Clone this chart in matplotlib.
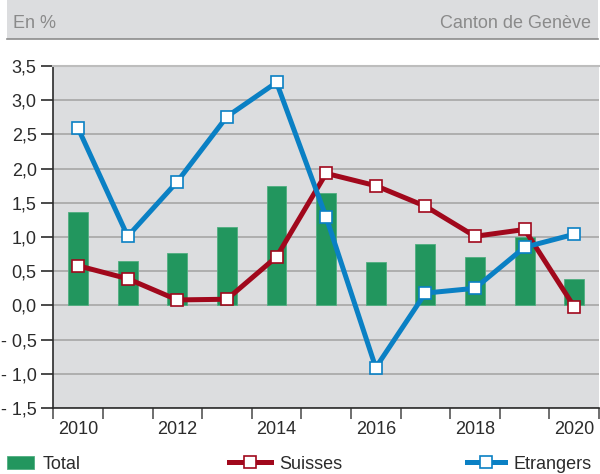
import numpy as np
import matplotlib
matplotlib.use('Agg')
from matplotlib import pyplot as plt
from matplotlib.patches import Rectangle
from matplotlib.lines import Line2D

plt.rcParams['font.family'] = ['Liberation Sans', 'DejaVu Sans']

years = [2010, 2011, 2012, 2013, 2014, 2015, 2016, 2017, 2018, 2019, 2020]
total = [1.36, 0.65, 0.77, 1.15, 1.74, 1.65, 0.63, 0.90, 0.71, 1.00, 0.39]
suisses = [0.58, 0.39, 0.08, 0.09, 0.71, 1.93, 1.75, 1.45, 1.01, 1.11, -0.02]
etrangers = [2.59, 1.01, 1.81, 2.76, 3.26, 1.29, -0.91, 0.18, 0.25, 0.85, 1.04]
ytick_values = [3.5, 3.0, 2.5, 2.0, 1.5, 1.0, 0.5, 0.0, -0.5, -1.0, -1.5]
ytick_labels = ['3,5', '3,0', '2,5', '2,0', '1,5', '1,0', '0,5', '0,0', '- 0,5', '- 1,0', '- 1,5']

GREEN = '#22965E'
RED = '#A1081C'
BLUE = '#0A80C4'
BG = '#DCDDDF'
GRID = '#A6A6A6'
DARK = '#2B2B2B'
FS = 13

fig = plt.figure(figsize=(6, 4.74), dpi=100)

# header band
fig.patches.append(Rectangle((7/600, 435/474), 591/600, 39/474, transform=fig.transFigure,
                             facecolor=BG, edgecolor='none', zorder=0))
fig.lines.append(Line2D([7/600, 598/600], [435/474, 435/474], transform=fig.transFigure,
                        color='#8C8C8C', lw=1.2))
fig.text(13/600, 450/474, 'En %', color='#8A8A8A', fontsize=FS, va='center', ha='left')
fig.text(591/600, 450/474, 'Canton de Genève', color='#8A8A8A', fontsize=FS, va='center', ha='right')

ax = fig.add_axes([53.3/600, 66/474, 545.7/600, 342/474])
ax.set_facecolor(BG)
x = np.arange(len(years))

bars = ax.bar(x, total, width=0.4, color=GREEN, edgecolor='#4FAE80', linewidth=0.6, zorder=2)
line_s, = ax.plot(x, suisses, color=RED, lw=3.6, marker='s', markersize=8.8, markerfacecolor='white',
                  markeredgecolor=RED, markeredgewidth=1.2, zorder=3)
line_e, = ax.plot(x, etrangers, color=BLUE, lw=3.6, marker='s', markersize=8.8, markerfacecolor='white',
                  markeredgecolor=BLUE, markeredgewidth=1.2, zorder=4)

ax.set_xlim(-0.5, len(years) - 0.5)
ax.set_ylim(-1.5, 3.5)

ax.set_yticks(ytick_values)
ax.set_yticklabels(ytick_labels, fontsize=FS, color=DARK)
ax.tick_params(axis='y', direction='out', length=9, width=1.2, color=DARK, pad=3)
ax.yaxis.grid(True, color=GRID, lw=1.2, zorder=1)
ax.set_axisbelow(True)

ax.set_xticks(np.arange(-0.5, len(years), 1.0))
ax.set_xticklabels([])
ax.tick_params(axis='x', which='major', direction='out', length=8, width=1.2, color='#555555')
ax.set_xticks(x[::2], minor=True)
ax.set_xticklabels([str(y) for y in years[::2]], minor=True, fontsize=FS, color=DARK)
ax.tick_params(axis='x', which='minor', length=0, pad=9)

ax.spines['right'].set_visible(False)
ax.spines['top'].set_color('#BDBDBD')
ax.spines['top'].set_linewidth(1.5)
ax.spines['left'].set_color(DARK)
ax.spines['left'].set_linewidth(1.2)
ax.spines['bottom'].set_color(DARK)
ax.spines['bottom'].set_linewidth(1.2)

legend_items = [(bars, 'Total', 7/600, 1.5), (line_s, 'Suisses', 229/600, 2.3),
                (line_e, 'Etrangers', 467/600, 2.1)]
for h, l, ax_x, hl in legend_items:
  leg = fig.legend([h], [l], loc='center left', bbox_to_anchor=(ax_x, 0.021), frameon=False,
                   fontsize=FS, handlelength=hl, handletextpad=0.5, borderpad=0, borderaxespad=0)
  for t in leg.get_texts():
    t.set_color(DARK)

fig.savefig('out.png', dpi=100)
